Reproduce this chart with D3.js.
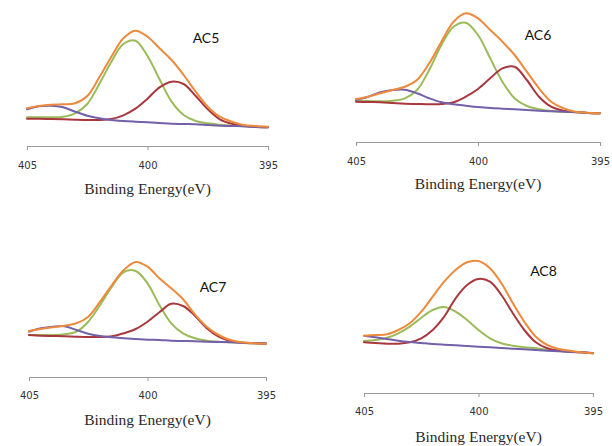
<!DOCTYPE html>
<html><head><meta charset="utf-8">
<script src="https://cdn.jsdelivr.net/npm/d3@7"></script>
<style>body{margin:0;background:#fff}svg{display:block}</style>
</head><body><svg id="c" width="612" height="446"></svg>
<script>
// ---- data (binding energy grid, eV) ----
const energies = [405,404.5,404,403.5,403,402.5,402,401.5,401,400.5,400,399.5,399,398.5,398,397.5,397,396.5,396,395.5,395];
const tickValues = [405,400,395];
const sampleNames = ["AC5","AC6","AC7","AC8"];
const axisTitle = "Binding Energy(eV)";

// intensities (arbitrary units)
const ac5Envelope   = [37.7,40,41.3,41.7,42.7,50,68.7,89.3,107.7,115.3,109.3,97.7,86,71,54.3,39.3,29.3,24.3,21,20,19.3];
const ac5PeakGreen  = [28.7,28.7,28.7,29.3,32.7,42,62,84.3,102,105.3,90,66.7,44.3,31,25,22.7,21.3,20.3,19.7,19,18.7];
const ac5PeakRed    = [27.3,27.3,27,26.7,26.3,26,26,27,30.7,37.3,47.3,58.7,64.3,62,50,36.7,26.7,22.3,20.3,19.3,18.7];
const ac5PeakPurple = [36.7,39.7,40.3,38.7,34.3,30.3,27.7,26,25,24.3,23.7,23,22.3,22,21.7,21,20.3,20,19.7,19,18.7];

const ac6Envelope   = [43,45.3,48.7,52,55.3,62,78.7,100.3,120.3,128.7,123.7,112,100.3,87,70.3,53.7,40.3,33.7,30.3,29.3,28.7];
const ac6PeakGreen  = [41,41,40.7,41.3,43.7,52,72,97,115.3,119.3,107,83.7,60.3,43.7,36,32.7,31,30.3,29.7,29,28.7];
const ac6PeakRed    = [40.3,40,39.7,39,38.3,38,37.7,38,39.7,45.3,53,63.7,73.7,75.3,62,45.3,35.3,31.3,30,29,28.7];
const ac6PeakPurple = [42,45.3,49.7,52,52.3,48.7,43.7,39.7,37.7,36.3,35,34,33.3,32.7,32,31.3,30.7,30.3,29.7,29,28.7];

const ac7Envelope   = [46,48,49.7,51.3,53.7,60.3,75.3,92,107,115,110.3,98.7,88.7,77.7,62.7,50.3,42,37,34.7,33.7,33.3];
const ac7PeakGreen  = [42,42,42,42.7,45.3,55.3,72,90.3,105,106,93.7,72,53.7,43.7,38.7,36.3,35.3,34.7,34,33.7,33.3];
const ac7PeakRed    = [42,41.3,41,40.7,40.3,40,40,40.7,43.7,48,55.3,64.7,73.3,71,61.3,48.7,40.3,36,34.3,33.7,33.3];
const ac7PeakPurple = [45.3,48.7,50.3,50.7,47,43.3,41,39.7,38.7,38,37.3,37,36.3,36,35.7,35.3,35,34.7,34.3,34,33.7];

const ac8Envelope   = [57.3,58,58.7,63,69.7,81.3,96.3,111.3,123,130.7,132,124.7,109.7,89.7,71.3,56.3,48,44,42.3,40.7,39.7];
const ac8PeakGreen  = [52,53,55.3,59.7,66.3,75.3,83,86,81.3,73,63,54.7,49.7,47.3,45.7,44.7,43.3,42.3,41.3,40.7,39.7];
const ac8PeakRed    = [50.7,50,49.3,49.3,50.7,54.7,63,76.3,94.7,108,114,111.3,98,79.7,63,50.7,44.7,42.3,41.3,40.7,39.7];
const ac8PeakPurple = [57.3,55.7,54,52.3,51,50,49,48.3,47.7,47,46.3,45.7,45,44.3,43.7,43,42.3,41.7,41,40.7,40];

const seriesBySample = [
  [ac5PeakGreen, ac5PeakRed, ac5PeakPurple, ac5Envelope],
  [ac6PeakGreen, ac6PeakRed, ac6PeakPurple, ac6Envelope],
  [ac7PeakGreen, ac7PeakRed, ac7PeakPurple, ac7Envelope],
  [ac8PeakGreen, ac8PeakRed, ac8PeakPurple, ac8Envelope]
];

// ---- layout / style ----
const colors = ["#9bbb59", "#a8383e", "#7460a8", "#ee8a3c"];
const layout = [
  {x0:27,  x1:268, axisY:146, tickDy:19, titleDy:43, labelX:206,   labelY:38},
  {x0:356, x1:600, axisY:142, tickDy:19, titleDy:42, labelX:538,   labelY:35},
  {x0:29,  x1:266, axisY:377, tickDy:18, titleDy:43, labelX:213,   labelY:287},
  {x0:364, x1:593, axisY:393, tickDy:18, titleDy:44, labelX:543.5, labelY:271}
];

const svg = d3.select("#c");
svg.append("rect").attr("width",612).attr("height",446).attr("fill","#fff");

layout.forEach((L, i) => {
  const g = svg.append("g");
  const x = d3.scaleLinear().domain([405, 395]).range([L.x0, L.x1]);
  const y = d3.scaleLinear().domain([0, 120]).range([L.axisY, L.axisY - 120]);

  const line = d3.line()
    .x((d, k) => x(energies[k]))
    .y(d => y(d))
    .curve(d3.curveCatmullRom.alpha(0.5));

  seriesBySample[i].forEach((vals, s) => {
    g.append("path")
      .attr("d", line(vals))
      .attr("fill", "none")
      .attr("stroke", colors[s])
      .attr("stroke-width", 2)
      .attr("stroke-linejoin", "round")
      .attr("stroke-linecap", "round");
  });

  const axis = d3.axisBottom(x).tickValues(tickValues).tickSize(4).tickSizeOuter(0).tickFormat(d3.format("d"));
  const ag = g.append("g").attr("transform", `translate(0,${L.axisY})`).call(axis);
  ag.select(".domain").attr("stroke", "#9a9a9a").attr("stroke-width", 1);
  ag.selectAll(".tick line").attr("stroke", "#9a9a9a");
  ag.selectAll(".tick text")
    .attr("y", L.tickDy).attr("dy", "0.35em")
    .attr("font-family", "DejaVu Sans, Verdana, sans-serif")
    .attr("font-size", 10).attr("fill", "#333");

  g.append("text")
    .attr("x", (L.x0 + L.x1) / 2).attr("y", L.axisY + L.titleDy)
    .attr("dy", "0.35em").attr("text-anchor", "middle")
    .attr("font-family", "Liberation Serif, Times New Roman, serif")
    .attr("font-size", 15.5).attr("fill", "#2a2a2a")
    .text(axisTitle);

  g.append("text")
    .attr("x", L.labelX).attr("y", L.labelY)
    .attr("dy", "0.35em").attr("text-anchor", "middle")
    .attr("font-family", "Lato, Open Sans, sans-serif")
    .attr("font-size", 14).attr("fill", "#111")
    .text(sampleNames[i]);
});
</script></body></html>
